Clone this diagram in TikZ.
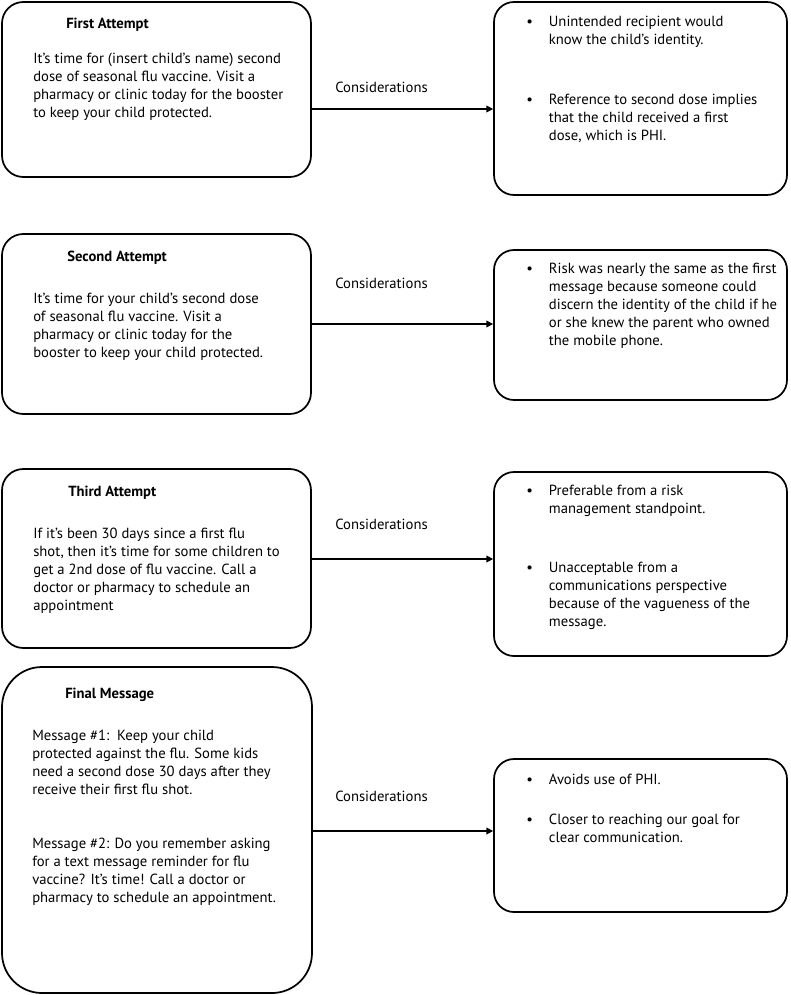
\documentclass[tikz,border=0pt]{standalone}
\usepackage{fontspec}
\setmainfont{PT Sans}
\usetikzlibrary{arrows.meta, fit}

% bullet point with hanging lines
\newcommand{\bpt}[1]{\makebox[17pt][l]{\textbullet}\begin{tabular}[t]{@{}l@{}}#1\end{tabular}}

\begin{document}
\begin{tikzpicture}[
    x=0.75pt, y=-0.75pt,
    box/.style={rectangle, draw, line width=1.3pt, rounded corners=16pt, inner sep=0pt},
    txt/.style={inner sep=0pt, anchor=north west, align=left, font=\fontsize{11}{13.4}\selectfont, execute at begin node=\strut},
    ttl/.style={txt, font=\fontsize{11}{13.4}\selectfont\bfseries},
    arrow/.style={-{Triangle[length=5pt, width=5pt]}, line width=0.9pt},
]
\useasboundingbox (0,0) rectangle (790,995);

% Attempts (left column)
\node[box, fit={(2,2) (311,177)}] (first) {};
\node[box, fit={(2,234) (311,414)}] (second) {};
\node[box, fit={(2,469) (311,648)}] (third) {};
\node[box, rounded corners=30pt, fit={(2,667) (312,993)}] (final) {};

\node[ttl] (firstttl) at (66,16) {First Attempt};
\node[txt] (firsttxt) at (33,53) {It’s time for (insert child’s name) second\\dose of seasonal flu vaccine. Visit a\\pharmacy or clinic today for the booster\\to keep your child protected.};

\node[ttl] (secondttl) at (67,249) {Second Attempt};
\node[txt] (secondtxt) at (33,293) {It’s time for your child’s second dose\\of seasonal flu vaccine. Visit a\\pharmacy or clinic today for the\\booster to keep your child protected.};

\node[ttl] (thirdttl) at (68,484) {Third Attempt};
\node[txt] (thirdtxt) at (33,528) {If it’s been 30 days since a first flu\\shot, then it’s time for some children to\\get a 2nd dose of flu vaccine. Call a\\doctor or pharmacy to schedule an\\appointment};

\node[ttl] (finalttl) at (65,686) {Final Message};
\node[txt] (msgone) at (32,730) {Message \#1:\ \ Keep your child\\protected against the flu. Some kids\\need a second dose 30 days after they\\receive their first flu shot.};
\node[txt] (msgtwo) at (32,838) {Message \#2: Do you remember asking\\for a text message reminder for flu\\vaccine? It’s time! Call a doctor or\\pharmacy to schedule an appointment.};

% Considerations (right column)
\node[box, rounded corners=15pt, fit={(494,2) (787,195)}] (firstnote) {};
\node[box, rounded corners=15pt, fit={(494,250) (787,400)}] (secondnote) {};
\node[box, rounded corners=15pt, fit={(494,472) (787,656)}] (thirdnote) {};
\node[box, rounded corners=15pt, fit={(494,759) (787,912)}] (finalnote) {};

\node[txt] (firstnotea) at (526,14) {\bpt{Unintended recipient would\\know the child’s identity.}};
\node[txt] (firstnoteb) at (526,92) {\bpt{Reference to second dose implies\\that the child received a first\\dose, which is PHI.}};
\node[txt] (secondnotea) at (526,261) {\bpt{Risk was nearly the same as the first\\message because someone could\\discern the identity of the child if he\\or she knew the parent who owned\\the mobile phone.}};
\node[txt] (thirdnotea) at (526,483) {\bpt{Preferable from a risk\\management standpoint.}};
\node[txt] (thirdnoteb) at (526,560) {\bpt{Unacceptable from a\\communications perspective\\because of the vagueness of the\\message.}};
\node[txt] (finalnotea) at (526,772) {\bpt{Avoids use of PHI.}};
\node[txt] (finalnoteb) at (526,812) {\bpt{Closer to reaching our goal for\\clear communication.}};

% Labels
\node[txt, anchor=west] (firstlbl) at (335,89) {Considerations};
\node[txt, anchor=west] (secondlbl) at (335,285) {Considerations};
\node[txt, anchor=west] (thirdlbl) at (335,526) {Considerations};
\node[txt, anchor=west] (finallbl) at (335,798) {Considerations};

% Arrows
\draw[arrow] (first.east |- 0,109) -- (firstnote.west |- 0,109);
\draw[arrow] (second.east |- 0,324) -- (secondnote.west |- 0,324);
\draw[arrow] (third.east |- 0,559) -- (thirdnote.west |- 0,559);
\draw[arrow] (final.east |- 0,831) -- (finalnote.west |- 0,831);

\end{tikzpicture}
\end{document}
